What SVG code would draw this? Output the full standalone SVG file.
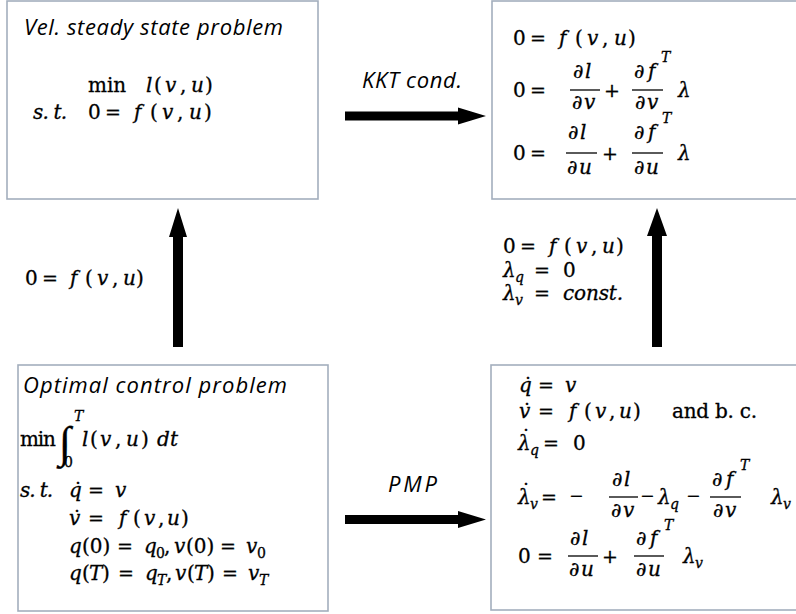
<svg xmlns="http://www.w3.org/2000/svg" width="796" height="614" viewBox="0 0 796 614">
<style>
.box{fill:#fff;stroke:#a3aebd;stroke-width:1.6}
.m{font-family:"DejaVu Serif",serif;font-size:20px;fill:#000;stroke:#000;stroke-width:0.3}
.i{font-style:italic}
.op{font-size:19px}
.mi{font-family:"Liberation Serif",serif;font-size:23px}
.sb{font-size:14px}
.t{font-family:"Open Sans",sans-serif;font-style:italic;font-size:22px;fill:#000}
.bar{stroke:#000;stroke-width:1.3}
.arr{fill:#000}
</style>
<rect width="796" height="614" fill="#fff"/>

<g id="n-vel">
<rect class="box" x="7" y="1" width="311" height="198"/>
<text class="t" x="24" y="35" textLength="259">Vel. steady state problem</text>
<text class="m"><tspan x="88" y="92">min</tspan><tspan class="i" x="146" y="92">l</tspan><tspan x="154" y="92">(</tspan><tspan class="i" x="165" y="92">v</tspan><tspan x="180" y="92">,</tspan><tspan class="i" x="191" y="92">u</tspan><tspan x="205" y="92">)</tspan></text>
<text class="m"><tspan class="i" x="33" y="119" textLength="34">s. t.</tspan><tspan x="88" y="119">0</tspan><tspan class="op" x="105" y="119">=</tspan><tspan class="i" x="134" y="119">f</tspan><tspan x="150" y="119">(</tspan><tspan class="i" x="162" y="119">v</tspan><tspan x="177" y="119">,</tspan><tspan class="i" x="189" y="119">u</tspan><tspan x="204" y="119">)</tspan></text>
</g>

<g id="n-kkt">
<rect class="box" x="492" y="1" width="320" height="198"/>
<text class="m"><tspan x="513" y="45">0</tspan><tspan class="op" x="530" y="45">=</tspan><tspan class="i" x="559" y="45">f</tspan><tspan x="575" y="45">(</tspan><tspan class="i" x="587" y="45">v</tspan><tspan x="602" y="45">,</tspan><tspan class="i" x="614" y="45">u</tspan><tspan x="628" y="45">)</tspan></text>
<text class="m"><tspan x="513" y="97">0</tspan><tspan class="op" x="530" y="97">=</tspan>
<tspan class="i" x="573" y="78">∂</tspan><tspan class="i" x="585" y="78">l</tspan><tspan class="i" x="572" y="109">∂</tspan><tspan class="i" x="584" y="109">v</tspan>
<tspan class="op" x="604" y="97">+</tspan>
<tspan class="i" x="634" y="78">∂</tspan><tspan class="i" x="648" y="78">f</tspan><tspan class="i sb" x="661" y="62">T</tspan><tspan class="i" x="635" y="109">∂</tspan><tspan class="i" x="647" y="109">v</tspan>
<tspan class="i" x="678" y="97">λ</tspan></text>
<line class="bar" x1="570" y1="90" x2="600" y2="90"/>
<line class="bar" x1="632" y1="90" x2="663" y2="90"/>
<text class="m"><tspan x="513" y="160">0</tspan><tspan class="op" x="530" y="160">=</tspan>
<tspan class="i" x="568" y="139">∂</tspan><tspan class="i" x="580" y="139">l</tspan><tspan class="i" x="567" y="174">∂</tspan><tspan class="i" x="579" y="174">u</tspan>
<tspan class="op" x="602" y="160">+</tspan>
<tspan class="i" x="634" y="139">∂</tspan><tspan class="i" x="648" y="139">f</tspan><tspan class="i sb" x="662" y="123">T</tspan><tspan class="i" x="634" y="174">∂</tspan><tspan class="i" x="646" y="174">u</tspan>
<tspan class="i" x="678" y="160">λ</tspan></text>
<line class="bar" x1="566" y1="153" x2="597" y2="153"/>
<line class="bar" x1="632" y1="153" x2="663" y2="153"/>
</g>

<g id="n-ocp">
<rect class="box" x="18" y="365" width="310" height="246"/>
<text class="t" x="23" y="393" textLength="264">Optimal control problem</text>
<text class="m"><tspan x="20" y="446" textLength="36">min</tspan><tspan class="i sb" x="74" y="421">T</tspan><tspan class="sb" x="64" y="467">0</tspan>
<tspan class="i" x="82" y="446">l</tspan><tspan x="90" y="446">(</tspan><tspan class="i" x="100" y="446">v</tspan><tspan x="115" y="446">,</tspan><tspan class="i" x="126" y="446">u</tspan><tspan x="141" y="446">)</tspan><tspan class="i" x="157" y="446">d</tspan><tspan class="i" x="170" y="446">t</tspan></text>
<text class="m mi" x="59" y="457" style="font-size:44px">∫</text>
<text class="m"><tspan class="i" x="20" y="497" textLength="33">s. t.</tspan><tspan class="i" x="69" y="497">q</tspan><tspan x="73" y="497">˙</tspan><tspan class="op" x="88" y="497">=</tspan><tspan class="i" x="115" y="497">v</tspan></text>
<text class="m"><tspan class="i" x="69" y="525">v</tspan><tspan x="72" y="525">˙</tspan><tspan class="op" x="88" y="525">=</tspan><tspan class="i" x="119" y="525">f</tspan><tspan x="133" y="525">(</tspan><tspan class="i" x="144" y="525">v</tspan><tspan x="158" y="525">,</tspan><tspan class="i" x="167" y="525">u</tspan><tspan x="181" y="525">)</tspan></text>
<text class="m"><tspan class="i" x="69" y="553">q</tspan><tspan x="82" y="553">(0)</tspan><tspan class="op" x="117" y="553">=</tspan><tspan class="i" x="144" y="553">q</tspan><tspan class="sb" x="156" y="558">0</tspan><tspan x="164" y="553">,</tspan><tspan class="i" x="174" y="553">v</tspan><tspan x="186" y="553">(0)</tspan><tspan class="op" x="220" y="553">=</tspan><tspan class="i" x="246" y="553">v</tspan><tspan class="sb" x="257" y="558">0</tspan></text>
<text class="m"><tspan class="i" x="69" y="580">q</tspan><tspan x="82" y="580">(</tspan><tspan class="i" x="89" y="580">T</tspan><tspan x="102" y="580">)</tspan><tspan class="op" x="118" y="580">=</tspan><tspan class="i" x="145" y="580">q</tspan><tspan class="i sb" x="157" y="585">T</tspan><tspan x="166" y="580">,</tspan><tspan class="i" x="175" y="580">v</tspan><tspan x="187" y="580">(</tspan><tspan class="i" x="194" y="580">T</tspan><tspan x="207" y="580">)</tspan><tspan class="op" x="222" y="580">=</tspan><tspan class="i" x="248" y="580">v</tspan><tspan class="i sb" x="259" y="585">T</tspan></text>
</g>

<g id="n-pmp">
<rect class="box" x="491" y="365" width="320" height="245"/>
<text class="m"><tspan class="i" x="519" y="392">q</tspan><tspan x="523" y="392">˙</tspan><tspan class="op" x="538" y="392">=</tspan><tspan class="i" x="565" y="392">v</tspan></text>
<text class="m"><tspan class="i" x="519" y="418">v</tspan><tspan x="522" y="418">˙</tspan><tspan class="op" x="538" y="418">=</tspan><tspan class="i" x="569" y="418">f</tspan><tspan x="584" y="418">(</tspan><tspan class="i" x="595" y="418">v</tspan><tspan x="609" y="418">,</tspan><tspan class="i" x="619" y="418">u</tspan><tspan x="633" y="418">)</tspan><tspan x="672" y="418" textLength="85">and b. c.</tspan></text>
<text class="m"><tspan class="i" x="518" y="450">λ</tspan><tspan x="521" y="444">˙</tspan><tspan class="i sb" x="530" y="455">q</tspan><tspan class="op" x="543" y="450">=</tspan><tspan x="573" y="450">0</tspan></text>
<text class="m"><tspan class="i" x="518" y="504">λ</tspan><tspan x="521" y="498">˙</tspan><tspan class="i sb" x="530" y="509">v</tspan><tspan class="op" x="541" y="504">=</tspan><tspan class="mi" x="570" y="504">−</tspan>
<tspan class="i" x="612" y="486">∂</tspan><tspan class="i" x="624" y="486">l</tspan><tspan class="i" x="611" y="517">∂</tspan><tspan class="i" x="623" y="517">v</tspan>
<tspan class="mi" x="641" y="504">−</tspan><tspan class="i" x="658" y="504">λ</tspan><tspan class="i sb" x="670" y="509">q</tspan>
<tspan class="mi" x="687" y="504">−</tspan>
<tspan class="i" x="712" y="486">∂</tspan><tspan class="i" x="726" y="486">f</tspan><tspan class="i sb" x="740" y="470">T</tspan><tspan class="i" x="713" y="517">∂</tspan><tspan class="i" x="725" y="517">v</tspan>
<tspan class="i" x="771" y="504">λ</tspan><tspan class="i sb" x="783" y="509">v</tspan></text>
<line class="bar" x1="609" y1="497" x2="638" y2="497"/>
<line class="bar" x1="710" y1="497" x2="741" y2="497"/>
<text class="m"><tspan x="518" y="563">0</tspan><tspan class="op" x="537" y="563">=</tspan>
<tspan class="i" x="570" y="545">∂</tspan><tspan class="i" x="582" y="545">l</tspan><tspan class="i" x="569" y="576">∂</tspan><tspan class="i" x="581" y="576">u</tspan>
<tspan class="op" x="602" y="563">+</tspan>
<tspan class="i" x="636" y="545">∂</tspan><tspan class="i" x="650" y="545">f</tspan><tspan class="i sb" x="664" y="530">T</tspan><tspan class="i" x="636" y="576">∂</tspan><tspan class="i" x="648" y="576">u</tspan>
<tspan class="i" x="683" y="563">λ</tspan><tspan class="i sb" x="695" y="568">v</tspan></text>
<line class="bar" x1="568" y1="556" x2="598" y2="556"/>
<line class="bar" x1="634" y1="556" x2="664" y2="556"/>
</g>

<g id="connectors">
<polygon class="arr" points="345,111.5 458,111.5 458,107.5 486,116 458,124.5 458,120.5 345,120.5"/>
<text class="t" x="362" y="88" textLength="100">KKT cond.</text>
<polygon class="arr" points="345,515 458,515 458,511 486,519.5 458,528 458,524 345,524"/>
<text class="t" x="388" y="492" textLength="49">PMP</text>
<polygon class="arr" points="173,347 173,237 169,237 178,208 187,237 183,237 183,347"/>
<text class="m"><tspan x="25" y="285">0</tspan><tspan class="op" x="42" y="285">=</tspan><tspan class="i" x="70" y="285">f</tspan><tspan x="85" y="285">(</tspan><tspan class="i" x="97" y="285">v</tspan><tspan x="112" y="285">,</tspan><tspan class="i" x="123" y="285">u</tspan><tspan x="136" y="285">)</tspan></text>
<polygon class="arr" points="652,347 652,236 647,236 657,208 667,236 662,236 662,347"/>
<text class="m"><tspan x="503" y="253">0</tspan><tspan class="op" x="520" y="253">=</tspan><tspan class="i" x="549" y="253">f</tspan><tspan x="564" y="253">(</tspan><tspan class="i" x="576" y="253">v</tspan><tspan x="591" y="253">,</tspan><tspan class="i" x="602" y="253">u</tspan><tspan x="616" y="253">)</tspan></text>
<text class="m"><tspan class="i" x="503" y="277">λ</tspan><tspan class="i sb" x="515" y="282">q</tspan><tspan class="op" x="534" y="277">=</tspan><tspan x="563" y="277">0</tspan></text>
<text class="m"><tspan class="i" x="503" y="300">λ</tspan><tspan class="i sb" x="515" y="305">v</tspan><tspan class="op" x="534" y="300">=</tspan><tspan class="i" x="563" y="300" textLength="60">const.</tspan></text>
</g>
</svg>
